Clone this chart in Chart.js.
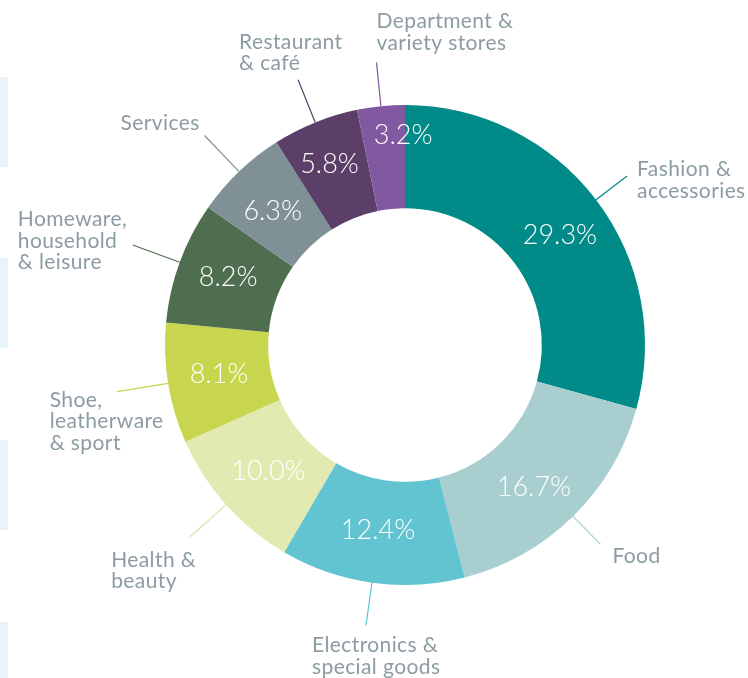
<!DOCTYPE html>
<html><head><meta charset="utf-8">
<script src="https://cdn.jsdelivr.net/npm/chart.js@4.4.1/dist/chart.umd.min.js"></script>
<style>
html,body{margin:0;padding:0;background:#fff;overflow:hidden;}
#wrap{position:relative;width:748px;height:678px;}
.edge{position:absolute;left:0;width:8px;background:#e8f3fa;}
canvas{position:absolute;left:0;top:0;}
</style></head><body>
<div id="wrap">
<div class="edge" style="top:77px;height:90px"></div>
<div class="edge" style="top:258px;height:90px"></div>
<div class="edge" style="top:440px;height:90px"></div>
<div class="edge" style="top:622px;height:56px"></div>
<canvas id="c" width="748" height="678"></canvas>
</div>
<script>
// ---- data ----
const categories = [
  ['Fashion &', 'accessories'],
  ['Food'],
  ['Electronics &', 'special goods'],
  ['Health &', 'beauty'],
  ['Shoe,', 'leatherware', '& sport'],
  ['Homeware,', 'household', '& leisure'],
  ['Services'],
  ['Restaurant', '& café'],
  ['Department &', 'variety stores']
];
const shares = [29.3, 16.7, 12.4, 10.0, 8.1, 8.2, 6.3, 5.8, 3.2];
const pctLabels = shares.map(v => v.toFixed(1) + '%');

// ---- styling / layout ----
const colors = ['#008a88', '#a8cecf', '#62c3d1', '#e2eab2', '#c8d64f', '#4f6e4f', '#7f9196', '#5b3f68', '#8059a0'];
const leaderColors = ['#008a88', '#a8cecf', '#62c3d1', '#d9e3a0', '#c8d64f', '#4f6e4f', '#7f9196', '#5b3f68', '#8059a0'];
const leaderLen = [39, 39, 43, 48, 52, 50, 50, 46, 44];
const textOff = [[10, 0], [12, 19], [-54, 27], [-79, 30], [-67, 15], [-115, -19], [-84, -5], [-59, -31], [0, -34]];
const pctNudge = [[5, 3], [-3, 7], [-1, -2], [4, 0], [0, -2], [0, -4], [-2, 1], [-5, -7], [17, -23]];
const lineH = 21.5;

const labelPlugin = {
  id: 'sliceLabels',
  afterDatasetsDraw(chart) {
    const ctx = chart.ctx;
    const meta = chart.getDatasetMeta(0);
    meta.data.forEach((arc, i) => {
      const p = arc.getProps(['x', 'y', 'startAngle', 'endAngle', 'outerRadius', 'innerRadius'], true);
      const a = (p.startAngle + p.endAngle) / 2;
      const cs = Math.cos(a), sn = Math.sin(a);
      const rm = (p.outerRadius + p.innerRadius) / 2;
      ctx.save();
      // percentage inside ring
      const fs = 27;
      ctx.font = '300 ' + fs + 'px Lato';
      ctx.fillStyle = '#ffffff';
      ctx.textAlign = 'center';
      ctx.textBaseline = 'alphabetic';
      ctx.fillText(pctLabels[i], p.x + cs * rm + pctNudge[i][0], p.y + sn * rm + pctNudge[i][1] + fs * 0.36);
      // leader line
      const r1 = p.outerRadius, r2 = p.outerRadius + leaderLen[i];
      ctx.strokeStyle = leaderColors[i];
      ctx.lineWidth = 1.2;
      ctx.beginPath();
      ctx.moveTo(p.x + cs * r1, p.y + sn * r1);
      ctx.lineTo(p.x + cs * r2, p.y + sn * r2);
      ctx.stroke();
      // category text
      const ex = p.x + cs * r2, ey = p.y + sn * r2;
      ctx.font = '21px Lato';
      if ('letterSpacing' in ctx) ctx.letterSpacing = '0.4px';
      ctx.fillStyle = '#8c9ca3';
      ctx.textAlign = 'left';
      categories[i].forEach((ln, k) => {
        ctx.fillText(ln, ex + textOff[i][0], ey + textOff[i][1] + k * lineH);
      });
      ctx.restore();
    });
  }
};

function draw() {
  new Chart(document.getElementById('c'), {
    type: 'doughnut',
    data: {
      labels: categories.map(c => c.join(' ')),
      datasets: [{
        data: shares,
        backgroundColor: colors,
        borderWidth: 0,
        hoverOffset: 0
      }]
    },
    options: {
      responsive: false,
      devicePixelRatio: 1,
      animation: false,
      cutout: '57%',
      layout: { padding: { left: 165, right: 103, top: 105, bottom: 93 } },
      plugins: { legend: { display: false }, tooltip: { enabled: false } }
    },
    plugins: [labelPlugin]
  });
}
Promise.all([
  document.fonts.load('300 27px Lato'),
  document.fonts.load('21px Lato')
]).then(draw, draw);
</script>
</body></html>
